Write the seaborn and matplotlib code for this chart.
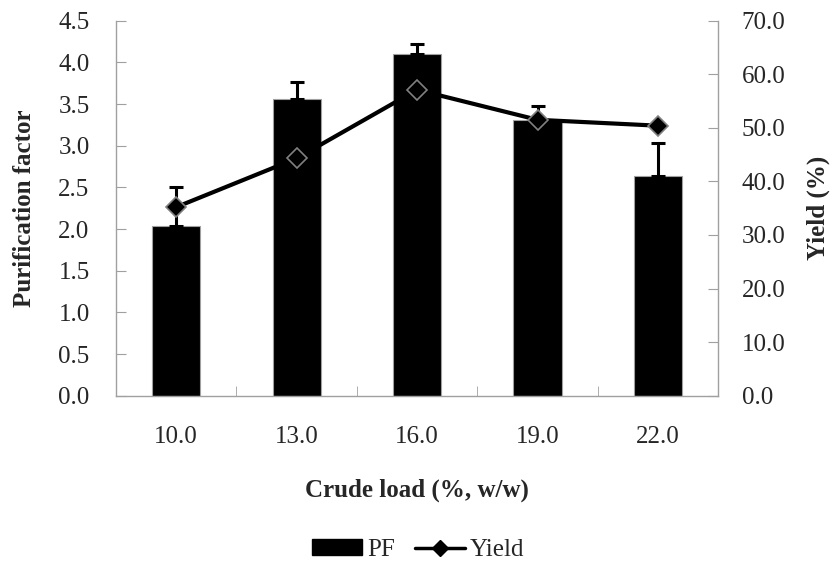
import matplotlib
matplotlib.use("Agg")
import matplotlib.pyplot as plt
import seaborn as sns
import pandas as pd
from matplotlib.patches import Patch
from matplotlib.lines import Line2D

# values
crude_load = ["10.0", "13.0", "16.0", "19.0", "22.0"]
pf = [2.04, 3.56, 4.10, 3.31, 2.64]
pf_err = [0.47, 0.21, 0.12, 0.17, 0.39]
yield_pct = [35.2, 44.3, 57.1, 51.5, 50.4]

sns.set_style("white")
plt.rcParams["font.family"] = ["Liberation Serif", "DejaVu Serif"]
plt.rcParams["font.size"] = 18

df = pd.DataFrame({"load": crude_load, "PF": pf, "err": pf_err, "Yield": yield_pct})

fig, ax = plt.subplots(figsize=(8.37, 5.70), dpi=100)
fig.subplots_adjust(left=0.1386, right=0.858, top=0.9637, bottom=0.3058)

sns.barplot(data=df, x="load", y="PF", order=crude_load, color="black",
            edgecolor="#a0a0a0", linewidth=0.8, width=0.4, saturation=1, ax=ax)
ax.errorbar(range(len(crude_load)), df["PF"], yerr=[[0] * len(pf_err), df["err"]],
            fmt="none", ecolor="black", elinewidth=2.2, capsize=5, capthick=2.2)

ax2 = ax.twinx()
sns.pointplot(data=df, x="load", y="Yield", order=crude_load, color="black",
              markers="D", markersize=10, linewidth=3, markeredgecolor="#808080",
              markeredgewidth=1.2, errorbar=None, ax=ax2)

ax.set_ylim(0, 4.5)
ax.set_yticks([i * 0.5 for i in range(10)])
ax.set_yticklabels([f"{i * 0.5:.1f}" for i in range(10)])
ax2.set_ylim(0, 70)
ax2.set_yticks(range(0, 71, 10))
ax2.set_yticklabels([f"{v:.1f}" for v in range(0, 71, 10)])
ax.set_xlim(-0.5, len(crude_load) - 0.5)

ax.set_xlabel("Crude load (%, w/w)", fontweight="bold", labelpad=22)
ax.set_ylabel("Purification factor", fontweight="bold", labelpad=16)
ax2.set_ylabel("Yield (%)", fontweight="bold", labelpad=15)
ax2.set_xlabel("")

for a in (ax, ax2):
    for side in ("left", "right", "bottom", "top"):
        a.spines[side].set_color("#a0a0a0")
        a.spines[side].set_linewidth(1)
    a.spines["top"].set_visible(False)
ax.spines["right"].set_visible(False)
ax2.spines["left"].set_visible(False)
ax2.spines["bottom"].set_visible(False)

ax.tick_params(axis="y", direction="in", length=7, color="#a0a0a0", pad=19, left=True)
ax2.tick_params(axis="y", direction="in", length=7, color="#a0a0a0", pad=17, right=True)
ax.tick_params(axis="x", length=0, pad=22)
# category boundary tick marks along the bottom
ax.set_xticks([i + 0.5 for i in range(len(crude_load) - 1)], minor=True)
ax.tick_params(axis="x", which="minor", direction="in", length=7, color="#a0a0a0", bottom=True)

handles = [Patch(facecolor="black", edgecolor="black"),
           Line2D([0], [0], color="black", lw=2.5, marker="D", markersize=8,
                  markeredgecolor="black")]
fig.legend(handles, ["PF", "Yield"], loc="center", bbox_to_anchor=(0.5, 0.035),
           ncol=2, frameon=False, handlelength=2.0, handleheight=0.6,
           handletextpad=0.2, columnspacing=0.8)

fig.savefig("out.png", dpi=100)
